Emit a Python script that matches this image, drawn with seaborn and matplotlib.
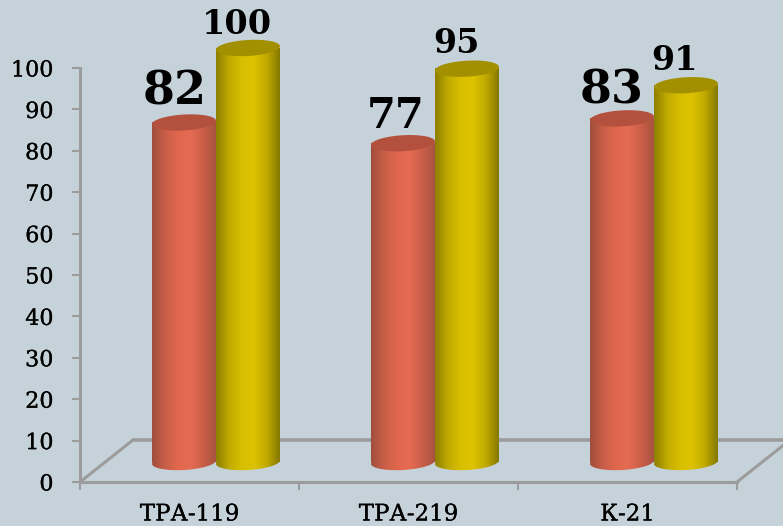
import matplotlib
matplotlib.use('Agg')
import matplotlib.pyplot as plt
from matplotlib.colors import LinearSegmentedColormap
from matplotlib.patches import Polygon
import matplotlib.patheffects as pe
import numpy as np
import pandas as pd
import seaborn as sns

# Dados do gráfico
categorias = ['ТРА-119', 'ТРА-219', 'К-21']
serie_1 = [82, 77, 83]
serie_2 = [100, 95, 91]
y_ticks = list(range(0, 101, 10))

# Estilo de cada rótulo, na ordem das barras
tam_rotulos = [33, 24, 30, 24, 33, 24]
desloc_x = [-9, -11, -7, -11, -10, -11]
desloc_y = [31, 23, 27, 25, 28, 25]

fundo = '#C6D2DA'
cinza = '#9C9C9C'
cores = {'Ряд 1': '#D9624A', 'Ряд 2': '#D8BE00'}
gradientes = [['#A04E3C', '#C85E48', '#E0674E', '#E56C52', '#CB5F49', '#A85240'],
              ['#8C7E00', '#C0AA00', '#D8BF00', '#DDC300', '#BFA900', '#857800']]
topos = ['#B3513E', '#A39000']

sns.set_theme(style='white')
plt.rcParams['font.family'] = ['DejaVu Serif', 'DejaVu Sans']

df = pd.DataFrame({
    'categoria': categorias * 2,
    'valor': serie_1 + serie_2,
    'serie': ['Ряд 1'] * 3 + ['Ряд 2'] * 3,
})

W, H = 783, 526
fig = plt.figure(figsize=(W / 100, H / 100), dpi=100, facecolor=fundo)


def caixa(x0, y_base, x1, y_topo):
    return [x0 / W, 1 - y_base / H, (x1 - x0) / W, (y_base - y_topo) / H]


# Eixos da moldura (chão e escala)
ax = fig.add_axes(caixa(80, 482, 737, 68), facecolor='none')
ax.set_xlim(-0.5, 2.5)
ax.set_ylim(0, 100)
sns.despine(ax=ax)
ax.spines['left'].set_color(cinza)
ax.spines['bottom'].set_color(cinza)
ax.spines['left'].set_linewidth(2.2)
ax.spines['bottom'].set_linewidth(2.2)
ax.set_yticks(y_ticks)
ax.set_xticks(range(3))
ax.set_xticklabels(categorias)
ax.set_xticks([-0.5, 0.5, 1.5, 2.5], minor=True)
ax.tick_params(axis='y', length=6, width=1.5, color=cinza, labelsize=16,
               labelcolor='black', left=True, pad=13)
ax.tick_params(axis='x', which='major', length=0, labelsize=16.5,
               labelcolor='black', pad=15.5)
ax.tick_params(axis='x', which='minor', length=6, width=1.5, color=cinza, bottom=True)
for t in ax.get_xticklabels() + ax.get_yticklabels():
    t.set_path_effects([pe.withStroke(linewidth=0.2, foreground='black')])

# Chão em perspectiva
prof_x = 53 / 219
prof_y = 42 / 4.14
ax.plot([-0.5, -0.5 + prof_x], [0, prof_y], color=cinza, lw=2.2, clip_on=False)
ax.plot([-0.5 + prof_x, 2.5 + prof_x], [prof_y, prof_y], color=cinza, lw=2.6, clip_on=False)
ax.plot([2.5, 2.5 + prof_x], [0, prof_y], color=cinza, lw=2.2, clip_on=False)

# Barras, deslocadas para o meio do chão (a margem de baixo guarda a base do cilindro)
ax2 = fig.add_axes(caixa(106.5, 482.7, 763.5, 48), facecolor='none')
sns.barplot(data=df, x='categoria', y='valor', hue='serie', order=categorias,
            palette=cores, width=0.584, gap=0, legend=False, ax=ax2)
lim_x = (-0.5, 2.5)
lim_y = (-5, 100)
ax2.set_xlim(lim_x)
ax2.set_ylim(lim_y)
ax2.axis('off')

meia_elipse = 8 / 4.14
inclina = 3.5 / 4.14  # subida da tampa, da esquerda para a direita
barras = sorted([p for p in ax2.patches if p.get_height() > 0], key=lambda p: p.get_x())
grad = np.linspace(0, 1, 128).reshape(1, -1)
t = np.linspace(0, 2 * np.pi, 100)


def elipse(x, w, y, **kw):
    px = x + w / 2 + w / 2 * np.cos(t)
    py = y + meia_elipse * np.sin(t) + inclina * np.cos(t) / 2
    return Polygon(np.column_stack([px, py]), closed=True, transform=ax2.transData, **kw)


for i, b in enumerate(barras):
    s = i % 2
    x, w, h = b.get_x(), b.get_width(), b.get_height()
    cmap = LinearSegmentedColormap.from_list('cil', gradientes[s])
    z = 3 + i
    b.set_visible(False)

    # corpo do cilindro com gradiente
    im = ax2.imshow(grad, extent=(x, x + w, 0, h), cmap=cmap, aspect='auto', zorder=z)

    # base arredondada
    im2 = ax2.imshow(grad, extent=(x, x + w, -3, 3), cmap=cmap, aspect='auto', zorder=z)
    im2.set_clip_path(elipse(x, w, 0))

    # tampa
    ax2.add_patch(elipse(x, w, h, facecolor=topos[s], edgecolor='none',
                         zorder=z + 0.5, clip_on=False))

    ax2.annotate(str(int(h)), (x + w / 2, h),
                 xytext=(desloc_x[i] * 0.72, desloc_y[i] * 0.72), textcoords='offset points',
                 ha='center', va='center', fontsize=tam_rotulos[i], fontweight='bold',
                 color='black', zorder=20, annotation_clip=False)

ax2.set_xlim(lim_x)
ax2.set_ylim(lim_y)

fig.savefig('out.png', dpi=100, facecolor=fundo)
